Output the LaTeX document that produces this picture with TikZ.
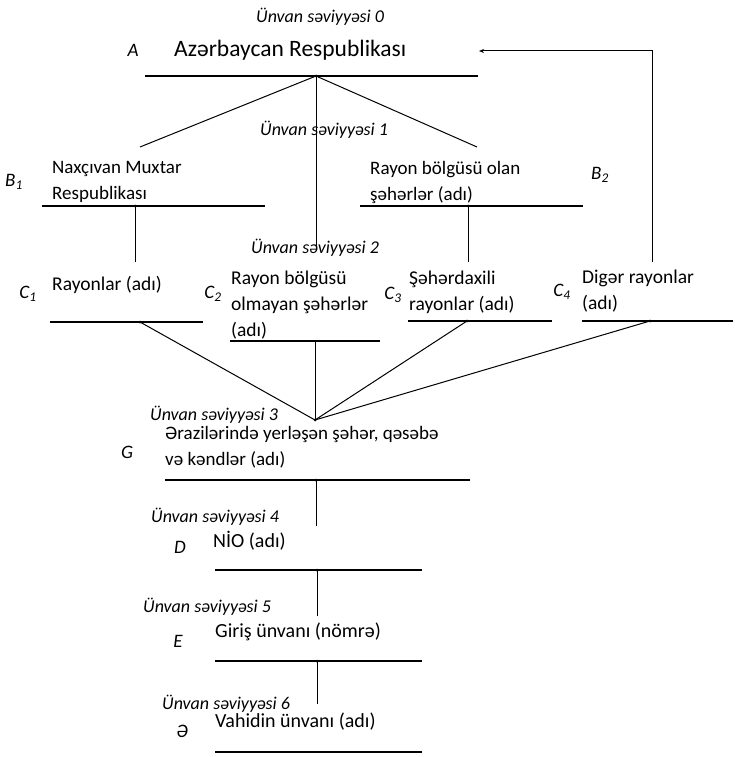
\documentclass[tikz,border=0pt]{standalone}
\usepackage{fontspec}
\setmainfont{Carlito}
\usetikzlibrary{arrows.meta}

\tikzset{%
  % Specifications for style of nodes:
         base/.style =  { inner sep=0pt, font=\fontsize{19}{26}\selectfont },
         item/.style =  { base, anchor=west, align=left },
         itemC/.style = { item, font=\fontsize{19.5}{26}\selectfont },
         itemL/.style = { item, font=\fontsize{20}{26}\selectfont },
         title/.style = { base, anchor=west, font=\fontsize{23.5}{28}\selectfont },
         level/.style = { base, anchor=west, font=\fontsize{18}{20}\selectfont\itshape },
         letter/.style = { base, font=\fontsize{19}{22}\selectfont\itshape },
         bar/.style =   { line width=1.3pt },
         link/.style =  { line width=1pt },
         joint/.style = { circle, fill=black, inner sep=0pt, minimum size=3pt },
}

\begin{document}
\begin{tikzpicture}[x=1pt, y=-1pt]
    \useasboundingbox (0,0) rectangle (735,757);

    % Draw nodes
    \node (lvl0)    [level]  at (256,17)  {Ünvan səviyyəsi 0};
    \node (keyA)    [letter] at (133,50)  {A};
    \node (azr)     [title]  at (174,50)  {Azərbaycan Respublikası};

    \node (lvl1)    [level]  at (260,130) {Ünvan səviyyəsi 1};
    \node (keyB1)   [letter] at (14,182)  {B\textsubscript{1}};
    \node (nax)     [item]   at (52,182)  {Naxçıvan Muxtar\\Respublikası};
    \node (rayb)    [item]   at (370,182) {Rayon bölgüsü olan\\şəhərlər (adı)};
    \node (keyB2)   [letter] at (600,175) {B\textsubscript{2}};

    \node (lvl2)    [level]  at (251,248) {Ünvan səviyyəsi 2};
    \node (keyC1)   [letter] at (28,294)  {C\textsubscript{1}};
    \node (rayon)   [itemC]  at (52,285)  {Rayonlar (adı)};
    \node (keyC2)   [letter] at (213,294) {C\textsubscript{2}};
    \node (olm)     [itemC]  at (231,305) {Rayon bölgüsü\\olmayan şəhərlər\\(adı)};
    \node (keyC3)   [letter] at (393,295) {C\textsubscript{3}};
    \node (seh)     [itemC]  at (409,292) {Şəhərdaxili\\rayonlar (adı)};
    \node (keyC4)   [letter] at (562,292) {C\textsubscript{4}};
    \node (dig)     [itemC]  at (582,291) {Digər rayonlar\\(adı)};

    \node (lvl3)    [level]  at (150,415) {Ünvan səviyyəsi 3};
    \node (keyG)    [letter] at (127,452) {G};
    \node (erz)     [item]   at (165,447) {Ərazilərində yerləşən şəhər, qəsəbə\\və kəndlər (adı)};

    \node (lvl4)    [level]  at (151,517) {Ünvan səviyyəsi 4};
    \node (keyD)    [letter] at (180,547) {D};
    \node (nio)     [itemL]  at (213,541) {NİO (adı)};

    \node (lvl5)    [level]  at (143,607) {Ünvan səviyyəsi 5};
    \node (keyE)    [letter] at (178,641) {E};
    \node (giris)   [itemL]  at (215,632) {Giriş ünvanı (nömrə)};

    \node (lvl6)    [level]  at (162,704) {Ünvan səviyyəsi 6};
    \node (keySchwa)[letter] at (182,731) {Ə};
    \node (vahid)   [itemL]  at (215,722) {Vahidin ünvanı (adı)};

    % Bars under the names
    \coordinate (barA_l)  at (145,76);  \coordinate (barA_r)  at (478,76);  \coordinate (jA)  at (316,76);
    \coordinate (barB1_l) at (42,206);  \coordinate (barB1_r) at (265,206); \coordinate (jB1) at (135,206);
    \coordinate (barB2_l) at (360,206); \coordinate (barB2_r) at (583,206); \coordinate (jB2) at (468,206);
    \coordinate (barC1_l) at (50,322);  \coordinate (barC1_r) at (203,322); \coordinate (jC1) at (140,322);
    \coordinate (barC2_l) at (230,341); \coordinate (barC2_r) at (380,341); \coordinate (jC2) at (315,341);
    \coordinate (barC3_l) at (408,321); \coordinate (barC3_r) at (552,321); \coordinate (jC3) at (467,321);
    \coordinate (barC4_l) at (582,321); \coordinate (barC4_r) at (733,321); \coordinate (jC4) at (650,321);
    \coordinate (barG_l)  at (165,480); \coordinate (barG_r)  at (470,480); \coordinate (jG)  at (316,480);
    \coordinate (barD_l)  at (215,570); \coordinate (barD_r)  at (422,570); \coordinate (jD)  at (317,570);
    \coordinate (barE_l)  at (215,661); \coordinate (barE_r)  at (422,661); \coordinate (jE)  at (317,661);
    \coordinate (barV_l)  at (215,752); \coordinate (barV_r)  at (422,752);

    \foreach \b in {A,B1,B2,C1,C2,C3,C4,G,D,E,V}
        \draw[bar] (bar\b_l) -- (bar\b_r);

    % Free ends of the connectors
    \coordinate (endB1)  at (140,147);
    \coordinate (endB2)  at (477,147);
    \coordinate (endA)   at (316,250);
    \coordinate (endC1)  at (135,262);
    \coordinate (endC3)  at (468,262);
    \coordinate (endC4)  at (652,262);
    \coordinate (backA)  at (479,51);
    \coordinate (apexG)  at (315,420);
    \coordinate (endD)   at (316,526);
    \coordinate (endE)   at (317,616);
    \coordinate (endV)   at (317,704);

    % Draw arrows
    \draw[link]  (jA) -- (endB1);
    \draw[link]  (jA) -- (endB2);
    \draw[link]  (jA) -- (endA);
    \draw[link]  (jB1) -- (endC1);
    \draw[link]  (jB2) -- (endC3);
    \draw[link,-{Stealth[length=5pt,width=4pt]}] (endC4) |- (backA);

    \draw[link]  (jC1) -- (apexG);
    \draw[link]  (jC2) -- (apexG);
    \draw[link]  (jC3) -- (apexG);
    \draw[link]  (jC4) -- (apexG);

    \draw[link]  (jG) -- (endD);
    \draw[link]  (jD) -- (endE);
    \draw[link]  (jE) -- (endV);

    \foreach \j in {jA,jB1,jB2,jC1,jC3,jC4,apexG,jG,jD,jE}
        \node[joint] at (\j) {};
\end{tikzpicture}
\end{document}
